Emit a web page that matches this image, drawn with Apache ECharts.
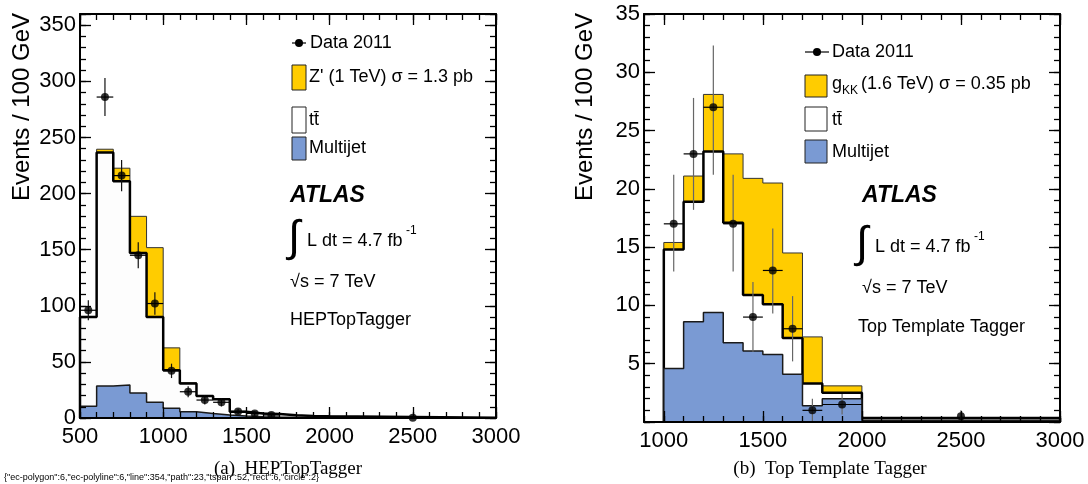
<!DOCTYPE html>
<html>
<head>
<meta charset="utf-8">
<script src="https://cdn.jsdelivr.net/npm/echarts@6/dist/echarts.min.js"></script>
<style>
  html, body { margin: 0; padding: 0; background: #fff; }
  #chart { width: 1088px; height: 484px; }
</style>
</head>
<body>
<div id="chart"></div>
<script>
// ---- (a) HEPTopTagger : bin edges and per-bin contents (events / 100 GeV)
const edgesA = [500, 600, 700, 800, 900, 1000, 1100, 1200, 1300, 1400, 1500, 1600, 1700, 1800, 1900, 2000, 3000]
const multijetA = [10.5, 28.5, 29.5, 22.3, 14, 8.6, 5.6, 4.1, 2.7, 1.8, 1.1, 0.8, 0.6, 0.4, 0.3, 0.1]
const ttbarA = [79.5, 208, 181.5, 124.7, 76, 34, 25.2, 15.4, 13.9, 3.8, 3.0, 2.8, 1.8, 1.4, 1.2, 0.2]
const zprimeA = [0.5, 3, 11.6, 32.7, 61.8, 19.9, 0.6, 0.3, 0.2, 0.1, 0.1, 0, 0, 0, 0, 0]
const dataXA = [550, 650, 750, 850, 950, 1050, 1150, 1250, 1350, 1450, 1550, 1650, 2500]
const dataYA = [96, 286, 216, 145, 102, 42, 23.4, 16, 14, 5.9, 4.1, 2.7, 0.3]
const dataErrA = [9, 17, 14, 11.5, 10, 6.4, 4.8, 4, 3.7, 2.4, 2, 1.6, 0.2]
const dataXErrA = [50, 50, 50, 50, 50, 50, 50, 50, 50, 50, 50, 50, 0]

// ---- (b) Top Template Tagger
const edgesB = [1000, 1100, 1200, 1300, 1400, 1500, 1600, 1700, 1800, 2000, 3000]
const multijetB = [4.6, 8.6, 9.4, 6.8, 6.1, 5.8, 4.1, 1.4, 2.0, 0.15]
const ttbarB = [10.2, 10.3, 13.8, 10.3, 4.8, 4.3, 3.1, 1.9, 0.5, 0.2]
const gkkB = [0.6, 2.2, 4.9, 5.9, 10.0, 10.4, 7.3, 4.0, 0.6, 0]
const dataXB = [1050, 1150, 1250, 1350, 1450, 1550, 1650, 1750, 1900, 2500]
const dataYB = [17, 23, 27, 17, 9, 13, 8, 1, 1.5, 0.5]
const dataErrDownB = [4.1, 4.8, 5.8, 4.1, 3, 3.7, 2.8, 1, 0.85, 0.35]
const dataErrUpB = [4.2, 4.8, 5.3, 4.2, 3, 3.6, 2.8, 1, 0.9, 0.5]
const dataXErrB = [50, 50, 50, 50, 50, 50, 50, 50, 100, 0]

// axis ticks
const xTicksA = [500, 3000, 500, 100] // min, max, major, minor
const yTicksA = [0, 360, 50, 10]
const xTicksB = [900, 3000, 1000, 500, 100] // min, max, first major, major, minor
const yTicksB = [0, 35, 5, 1]

const BLUE = '#7a9ad3'
const YELLOW = '#ffcc00'
const FONT = 'Liberation Sans'

// layout of the two frames
const gA = { left: 80, top: 14, width: 416, height: 404 }
const gB = { left: 644, top: 14, width: 416, height: 408 }
const px1000 = gB.left + (xTicksB[2] - xTicksB[0]) / (xTicksB[1] - xTicksB[0]) * gB.width

const addUp = (...arrs) => arrs[0].map((_, i) => arrs.reduce((s, a) => s + a[i], 0))

// step outline points for a histogram
function stepPoints (edges, vals) {
  const pts = [[edges[0], 0]]
  vals.forEach((v, i) => pts.push([edges[i], v]))
  pts.push([edges[edges.length - 1], vals[vals.length - 1]])
  pts.push([edges[edges.length - 1], 0])
  return pts
}

function histSeries (xi, yi, edges, vals, fill, stroke, width, z) {
  return {
    type: 'line',
    xAxisIndex: xi,
    yAxisIndex: yi,
    step: 'end',
    symbol: 'none',
    data: stepPoints(edges, vals),
    lineStyle: { color: stroke, width: width },
    areaStyle: { color: fill, opacity: 1 },
    z: z,
    silent: true
  }
}

function errorSeries (xi, yi, xs, ys, xerr, dn, up, vColor) {
  return {
    type: 'custom',
    xAxisIndex: xi,
    yAxisIndex: yi,
    z: 8,
    data: xs.map((x, i) => [x, ys[i], xerr[i], dn[i], up[i]]),
    encode: { x: 0, y: 1 },
    renderItem: function (params, api) {
      const x = api.value(0)
      const y = api.value(1)
      const xe = api.value(2)
      const lo = api.coord([x, Math.max(0, y - api.value(3))])
      const hi = api.coord([x, y + api.value(4)])
      const l = api.coord([x - xe, y])
      const r = api.coord([x + xe, y])
      return {
        type: 'group',
        children: [
          { type: 'line', shape: { x1: lo[0], y1: lo[1], x2: hi[0], y2: hi[1] }, style: { stroke: vColor, lineWidth: 1.2 } },
          { type: 'line', shape: { x1: l[0], y1: l[1], x2: r[0], y2: r[1] }, style: { stroke: '#000', lineWidth: 1.2 } }
        ]
      }
    }
  }
}

function pointSeries (xi, yi, xs, ys) {
  return {
    type: 'scatter',
    xAxisIndex: xi,
    yAxisIndex: yi,
    symbol: 'circle',
    symbolSize: 8,
    itemStyle: { color: '#000' },
    data: xs.map((x, i) => [x, ys[i]]),
    z: 9
  }
}

// one axis of the frame: major (labelled, long ticks) or minor (short ticks)
function axis (kind, grid, pos, min, max, interval, opts) {
  const o = opts || {}
  return {
    type: 'value',
    gridIndex: grid,
    position: pos,
    min: min,
    max: max,
    interval: interval,
    show: o.show !== false,
    z: 12,
    axisLine: { show: !!o.line, onZero: false, lineStyle: { color: '#000', width: 2 } },
    axisTick: { show: true, inside: true, length: kind === 'major' ? 11 : 6, lineStyle: { color: '#000', width: 1.3 } },
    axisLabel: {
      show: !!o.label,
      color: '#000',
      fontFamily: FONT,
      fontSize: 22,
      margin: o.margin || 8,
      formatter: o.fmt || (v => String(v))
    },
    splitLine: { show: false }
  }
}

const multiOf = (step, hideZero) => v => (v % step === 0 && !(hideZero && v === 0)) ? String(v) : ''

const xAxes = [
  axis('major', 0, 'bottom', xTicksA[0], xTicksA[1], xTicksA[2], { line: true, label: true, margin: 8 }),
  axis('minor', 0, 'bottom', xTicksA[0], xTicksA[1], xTicksA[3]),
  axis('major', 0, 'top', xTicksA[0], xTicksA[1], xTicksA[2], { line: true }),
  axis('minor', 0, 'top', xTicksA[0], xTicksA[1], xTicksA[3]),
  axis('minor', 1, 'bottom', xTicksB[0], xTicksB[1], xTicksB[4], { line: true }),
  axis('minor', 1, 'top', xTicksB[0], xTicksB[1], xTicksB[4], { line: true }),
  axis('major', 2, 'bottom', xTicksB[2], xTicksB[1], xTicksB[3], { label: true, margin: 8 }),
  axis('major', 2, 'top', xTicksB[2], xTicksB[1], xTicksB[3])
]
const yAxes = [
  axis('major', 0, 'left', yTicksA[0], yTicksA[1], yTicksA[2], { line: true, label: true, margin: 4, fmt: multiOf(50, false) }),
  axis('minor', 0, 'left', yTicksA[0], yTicksA[1], yTicksA[3]),
  axis('major', 0, 'right', yTicksA[0], yTicksA[1], yTicksA[2], { line: true }),
  axis('minor', 0, 'right', yTicksA[0], yTicksA[1], yTicksA[3]),
  axis('major', 1, 'left', yTicksB[0], yTicksB[1], yTicksB[2], { line: true, label: true, margin: 4, fmt: multiOf(5, true) }),
  axis('minor', 1, 'left', yTicksB[0], yTicksB[1], yTicksB[3]),
  axis('major', 1, 'right', yTicksB[0], yTicksB[1], yTicksB[2], { line: true }),
  axis('minor', 1, 'right', yTicksB[0], yTicksB[1], yTicksB[3]),
  axis('minor', 2, 'left', yTicksB[0], yTicksB[1], yTicksB[3], { show: false })
]

const totalA = addUp(multijetA, ttbarA)
const totalB = addUp(multijetB, ttbarB)

const series = [
  histSeries(0, 0, edgesA, addUp(multijetA, ttbarA, zprimeA), YELLOW, '#333', 1, 2),
  histSeries(0, 0, edgesA, totalA, '#fdfdfd', '#000', 2.5, 3),
  histSeries(0, 0, edgesA, multijetA, BLUE, '#1a1a1a', 1.5, 4),
  errorSeries(0, 0, dataXA, dataYA, dataXErrA, dataErrA, dataErrA, '#111'),
  pointSeries(0, 0, dataXA, dataYA),

  histSeries(4, 4, edgesB, addUp(multijetB, ttbarB, gkkB), YELLOW, '#333', 1, 2),
  histSeries(4, 4, edgesB, totalB, '#fff', '#000', 2.5, 3),
  histSeries(4, 4, edgesB, multijetB, BLUE, '#1a1a1a', 1.5, 4),
  errorSeries(4, 4, dataXB, dataYB, dataXErrB, dataErrDownB, dataErrUpB, '#666'),
  pointSeries(4, 4, dataXB, dataYB)
]

// legend + labels drawn as text
function txt (x, y, text, size, extra) {
  return Object.assign({
    type: 'text', x: x, y: y, z: 20,
    style: Object.assign({ text: text, fill: '#000', fontFamily: FONT, fontSize: size, verticalAlign: 'middle', align: 'left' }, (extra || {}).style || {})
  }, (extra || {}).el || {})
}
function box (x, y, w, h, fill) {
  return { type: 'rect', z: 20, shape: { x: x, y: y, width: w, height: h }, style: { fill: fill, stroke: '#222', lineWidth: 1 } }
}
function dataMark (x1, x2, y) {
  return [
    { type: 'line', z: 20, shape: { x1: x1, y1: y, x2: x2, y2: y }, style: { stroke: '#000', lineWidth: 1.2 } },
    { type: 'circle', z: 21, shape: { cx: (x1 + x2) / 2, cy: y, r: 4 }, style: { fill: '#000' } }
  ]
}
function atlasBlock (x, yAtlas, xInt, yInt, yS, tagText, yTag, xTag) {
  return [
    txt(x, yAtlas, 'ATLAS', 23, { style: { fontWeight: 'bold', fontStyle: 'italic' } }),
    txt(xInt - 5, yInt, '\u222B', 44),
    txt(xInt + 14, yInt + 2, 'L dt = 4.7 fb', 18),
    txt(xInt + 113, yInt - 8, '-1', 12),
    txt(x, yS, '\u221As = 7 TeV', 18),
    txt(xTag, yTag, tagText, 18)
  ]
}

const graphic = [
  // y titles
  txt(22, 13, 'Events / 100 GeV', 24, { el: { rotation: Math.PI / 2 }, style: { align: 'right' } }),
  txt(585, 13, 'Events / 100 GeV', 24, { el: { rotation: Math.PI / 2 }, style: { align: 'right' } }),
  // captions
  txt(288, 469, '(a)  HEPTopTagger', 19, { style: { fontFamily: 'Liberation Serif', align: 'center' } }),
  txt(830, 469, '(b)  Top Template Tagger', 19, { style: { fontFamily: 'Liberation Serif', align: 'center' } }),

  // legend (a)
  ...dataMark(292, 306, 43),
  txt(310, 43, 'Data 2011', 18),
  box(292, 65, 14, 25, YELLOW),
  txt(309, 77, 'Z\' (1 TeV) \u03C3 = 1.3 pb', 18),
  box(292, 107, 14, 26, '#fff'),
  txt(309, 120, 'tt\u0304', 18),
  box(292, 137, 14, 23, BLUE),
  txt(309, 148, 'Multijet', 18),
  ...atlasBlock(290, 196, 293, 239, 282, 'HEPTopTagger', 320, 290),

  // legend (b)
  ...dataMark(805, 829, 52),
  txt(832, 52, 'Data 2011', 18),
  box(805, 75, 22, 22, YELLOW),
  txt(832, 84, 'g', 18),
  txt(842, 91, 'KK', 12),
  txt(861, 84, '(1.6 TeV) \u03C3 = 0.35 pb', 18),
  box(805, 107, 22, 24, '#fff'),
  txt(832, 120, 'tt\u0304', 18),
  box(805, 140, 22, 23, BLUE),
  txt(832, 152, 'Multijet', 18),
  ...atlasBlock(862, 196, 861, 245, 288, 'Top Template Tagger', 327, 858)
]

const chart = echarts.init(document.getElementById('chart'))
chart.setOption({
  animation: false,
  backgroundColor: '#fff',
  grid: [
    Object.assign({ containLabel: false }, gA),
    Object.assign({ containLabel: false }, gB),
    { left: px1000, top: gB.top, width: gB.left + gB.width - px1000, height: gB.height }
  ],
  xAxis: xAxes,
  yAxis: yAxes,
  series: series,
  graphic: graphic
})

// temporary check: how many drawn elements of each kind
const counts = {}
chart.getZr().storage.getDisplayList(true).forEach(el => { counts[el.type] = (counts[el.type] || 0) + 1 })
chart.setOption({ graphic: graphic.concat([txt(4, 478, JSON.stringify(counts), 9)]) })
</script>
</body>
</html>
